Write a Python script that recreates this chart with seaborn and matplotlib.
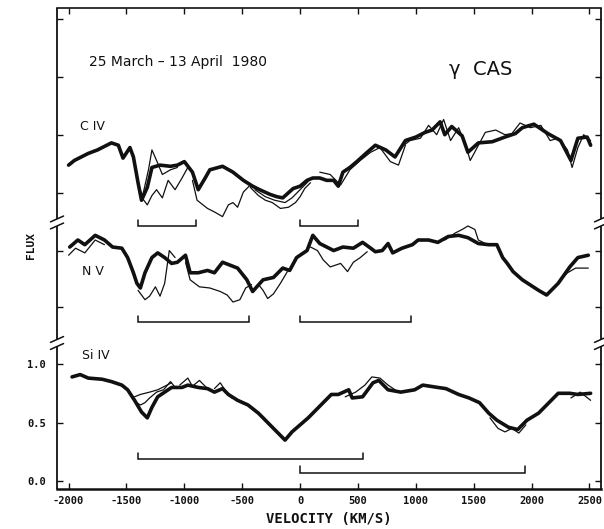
import numpy as np
import matplotlib
matplotlib.use("Agg")
import matplotlib.pyplot as plt
import matplotlib.transforms as mtransforms
import seaborn as sns

# ---------------- C IV (relative flux, stacked above the other ions) ----------------
civ_v = [-2000, -1950, -1830, -1750, -1630, -1570, -1530, -1470, -1440, -1400, -1370, -1320,
         -1280, -1210, -1120, -1060, -1000, -930, -880, -820, -780, -670, -580, -490, -410,
         -350, -260, -200, -150, -60, 0, 60, 110, 170, 230, 290, 330, 370, 430, 490, 580,
         650, 740, 820, 910, 1000, 1080, 1140, 1210, 1250, 1310, 1400, 1450, 1540, 1660,
         1770, 1860, 1920, 2020, 2140, 2250, 2340, 2400, 2480, 2510]
civ_f = [0.70, 0.74, 0.80, 0.83, 0.89, 0.87, 0.76, 0.85, 0.77, 0.55, 0.40, 0.51,
         0.68, 0.70, 0.69, 0.70, 0.73, 0.64, 0.49, 0.59, 0.66, 0.69, 0.64, 0.57, 0.52,
         0.49, 0.45, 0.43, 0.42, 0.50, 0.52, 0.57, 0.59, 0.59, 0.57, 0.57, 0.52, 0.64, 0.68, 0.73, 0.81,
         0.87, 0.83, 0.77, 0.91, 0.94, 0.98, 1.00, 1.07, 0.96, 1.03, 0.95, 0.81, 0.89, 0.90,
         0.94, 0.97, 1.02, 1.05, 0.97, 0.91, 0.74, 0.93, 0.94, 0.87]
# individual exposures where they leave the common band
civ_a_v = [-1400, -1360, -1310, -1280, -1240, -1190, -1120, -1060]
civ_a_f = [0.53, 0.44, 0.66, 0.83, 0.74, 0.62, 0.66, 0.68]
civ_b_v = [-1380, -1320, -1280, -1240, -1190, -1140, -1080, -1020, -970]
civ_b_f = [0.44, 0.36, 0.44, 0.49, 0.42, 0.57, 0.49, 0.59, 0.68]
civ_c_v = [-930, -890, -800, -740, -670, -620, -580, -540, -490, -430, -390]
civ_c_f = [0.57, 0.40, 0.33, 0.30, 0.26, 0.36, 0.38, 0.34, 0.47, 0.53, 0.51]
civ_e_v = [-430, -360, -300, -240, -170, -100, -40, 0, 40, 90]
civ_e_f = [0.51, 0.44, 0.40, 0.38, 0.33, 0.34, 0.38, 0.43, 0.50, 0.55]
civ_g_v = [-390, -300, -220, -130, -70, 0, 70]
civ_g_f = [0.49, 0.43, 0.40, 0.38, 0.42, 0.49, 0.56]
civ_h_v = [170, 260, 350, 430, 520, 610, 690, 780, 850, 910]
civ_h_f = [0.64, 0.62, 0.53, 0.66, 0.74, 0.81, 0.85, 0.73, 0.70, 0.87]
civ_k_v = [870, 950, 1040, 1110, 1180, 1240, 1300, 1370, 1430, 1470, 1530, 1600, 1690,
           1770, 1830, 1900, 1990, 2080, 2160, 2230, 2310, 2350, 2400, 2450, 2510]
civ_k_f = [0.85, 0.91, 0.93, 1.04, 0.96, 1.09, 0.91, 1.02, 0.87, 0.74, 0.85, 0.98, 1.00,
           0.96, 0.97, 1.06, 1.02, 1.04, 0.91, 0.93, 0.83, 0.68, 0.85, 0.96, 0.91]

# ---------------- N V ----------------
nv_v = [-1990, -1920, -1860, -1770, -1690, -1620, -1540, -1490, -1440, -1410, -1380, -1340,
        -1280, -1230, -1170, -1110, -1060, -990, -950, -880, -800, -740, -670, -540, -460,
        -410, -320, -230, -150, -90, -30, 60, 110, 170, 230, 290, 370, 460, 540, 610, 650,
        710, 760, 800, 880, 970, 1020, 1110, 1190, 1280, 1370, 1450, 1540, 1630, 1700,
        1750, 1790, 1840, 1920, 2060, 2130, 2230, 2330, 2400, 2490]
nv_f = [1.00, 1.06, 1.02, 1.10, 1.06, 1.00, 0.99, 0.91, 0.78, 0.69, 0.65, 0.78,
        0.91, 0.95, 0.91, 0.86, 0.87, 0.93, 0.78, 0.78, 0.80, 0.78, 0.87, 0.82, 0.72,
        0.62, 0.72, 0.74, 0.82, 0.80, 0.91, 0.97, 1.10, 1.03, 1.00, 0.97, 1.00, 0.99, 1.04, 0.99, 0.96,
        0.97, 1.03, 0.95, 0.99, 1.02, 1.06, 1.06, 1.04, 1.09, 1.10, 1.08, 1.03, 1.02, 1.02,
        0.91, 0.86, 0.79, 0.72, 0.63, 0.59, 0.69, 0.83, 0.91, 0.93]
nv_a_v = [-1400, -1340, -1300, -1250, -1210, -1170, -1130, -1080]
nv_a_f = [0.63, 0.55, 0.58, 0.66, 0.58, 0.69, 0.97, 0.91]
nv_b_v = [-990, -950, -870, -780, -690, -630, -580, -520, -470, -420]
nv_b_f = [0.87, 0.72, 0.66, 0.65, 0.62, 0.59, 0.53, 0.55, 0.65, 0.68]
nv_c_v = [-360, -320, -280, -230, -170, -110]
nv_c_f = [0.68, 0.63, 0.56, 0.60, 0.69, 0.79]
nv_d_v = [90, 150, 200, 260, 350, 410, 460, 520, 580]
nv_d_f = [1.00, 0.97, 0.89, 0.83, 0.86, 0.79, 0.87, 0.91, 0.96]
nv_e_v = [1250, 1340, 1400, 1450, 1510, 1540, 1600]
nv_e_f = [1.06, 1.12, 1.15, 1.18, 1.15, 1.06, 1.03]
nv_g_v = [2250, 2310, 2380, 2490]
nv_g_f = [0.72, 0.78, 0.82, 0.82]
nv_h_v = [-2000, -1940, -1860, -1770, -1690]
nv_h_f = [0.93, 0.99, 0.95, 1.06, 1.02]

# ---------------- Si IV (normalised flux, labelled scale) ----------------
si_v = [-1970, -1900, -1830, -1710, -1630, -1540, -1490, -1430, -1370, -1320, -1280, -1230,
        -1170, -1110, -1020, -970, -880, -800, -740, -670, -620, -540, -450, -360, -280,
        -190, -130, -70, 70, 160, 270, 330, 420, 450, 540, 630, 680, 760, 870, 990, 1060,
        1190, 1260, 1370, 1460, 1550, 1630, 1700, 1800, 1880, 1960, 2060, 2160, 2230, 2330,
        2400, 2510]
si_f = [0.89, 0.91, 0.88, 0.87, 0.85, 0.82, 0.78, 0.69, 0.59, 0.54, 0.63, 0.72,
        0.76, 0.80, 0.80, 0.82, 0.80, 0.79, 0.76, 0.79, 0.74, 0.69, 0.65, 0.58, 0.50,
        0.41, 0.35, 0.42, 0.54, 0.63, 0.74, 0.74, 0.78, 0.71, 0.72, 0.84, 0.86, 0.78, 0.76, 0.78, 0.82,
        0.80, 0.79, 0.74, 0.71, 0.67, 0.58, 0.52, 0.46, 0.44, 0.52, 0.58, 0.68, 0.75, 0.75,
        0.74, 0.75]
si_a_v = [-1430, -1380, -1340, -1300, -1230, -1170, -1110]
si_a_f = [0.72, 0.74, 0.75, 0.76, 0.78, 0.81, 0.84]
si_b_v = [-1430, -1380, -1340, -1300, -1240, -1180, -1120, -1070]
si_b_f = [0.68, 0.65, 0.67, 0.71, 0.76, 0.78, 0.85, 0.79]
si_c_v = [-1040, -970, -930, -870, -800]
si_c_f = [0.82, 0.88, 0.81, 0.86, 0.79]
si_d_v = [-740, -690, -650, -590]
si_d_f = [0.79, 0.84, 0.78, 0.71]
si_e_v = [390, 480, 560, 620, 690, 760, 820]
si_e_f = [0.72, 0.76, 0.82, 0.89, 0.88, 0.82, 0.78]
si_g_v = [1640, 1710, 1770, 1830, 1890, 1950]
si_g_f = [0.54, 0.45, 0.42, 0.45, 0.41, 0.48]
si_h_v = [2340, 2420, 2510]
si_h_f = [0.71, 0.76, 0.69]

# doublet separations marked under each ion (km/s)
civ_brackets = [(-1400, -900), (0, 500)]
nv_brackets = [(-1400, -440), (0, 960)]
si_brackets = [(-1400, 540), (0, 1940)]

x_ticks = [-2000, -1500, -1000, -500, 0, 500, 1000, 1500, 2000, 2500]
x_tick_labels = ["-2000", "-1500", "-1000", "-500", "0", "500", "1000", "1500", "2000", "2500"]
si_ticks = [0.0, 0.5, 1.0]
si_tick_labels = ["0.0", "0.5", "1.0"]

# vertical shifts used to stack the three ions
CIV_SHIFT = 2.0
NV_SHIFT = 1.0

sns.set_theme(style="ticks")
plt.rcParams["font.family"] = ["DejaVu Sans"]

fig = plt.figure(figsize=(6.04, 5.29), dpi=100)
ax = fig.add_axes([0.0944, 0.0756, 0.9007, 0.9093])
ax.set_xlim(-2100, 2600)
ax.set_ylim(-0.068, 4.043)

ink = "#111111"


def draw(v, f, shift, lw):
    sns.lineplot(x=v, y=np.asarray(f) + shift, ax=ax, color=ink, linewidth=lw,
                 sort=False, estimator=None, legend=False)


main_lw = 2.6
thin_lw = 0.9
draw(civ_v, civ_f, CIV_SHIFT, main_lw)
for v, f in [(civ_a_v, civ_a_f), (civ_b_v, civ_b_f), (civ_c_v, civ_c_f), (civ_e_v, civ_e_f),
             (civ_g_v, civ_g_f), (civ_h_v, civ_h_f), (civ_k_v, civ_k_f)]:
    draw(v, f, CIV_SHIFT, thin_lw)

draw(nv_v, nv_f, NV_SHIFT, main_lw)
for v, f in [(nv_a_v, nv_a_f), (nv_b_v, nv_b_f), (nv_c_v, nv_c_f), (nv_d_v, nv_d_f),
             (nv_e_v, nv_e_f), (nv_g_v, nv_g_f), (nv_h_v, nv_h_f)]:
    draw(v, f, NV_SHIFT, thin_lw)

draw(si_v, si_f, 0.0, main_lw)
for v, f in [(si_a_v, si_a_f), (si_b_v, si_b_f), (si_c_v, si_c_f), (si_d_v, si_d_f),
             (si_e_v, si_e_f), (si_g_v, si_g_f), (si_h_v, si_h_f)]:
    draw(v, f, 0.0, thin_lw)


def bracket(v0, v1, y, h):
    ax.plot([v0, v0, v1, v1], [y + h, y, y, y + h], color=ink, lw=1.1,
            solid_joinstyle="miter")


for v0, v1 in civ_brackets:
    bracket(v0, v1, 2.18, 0.05)
for v0, v1 in nv_brackets:
    bracket(v0, v1, 1.36, 0.05)
bracket(si_brackets[0][0], si_brackets[0][1], 0.19, 0.05)
bracket(si_brackets[1][0], si_brackets[1][1], 0.07, 0.06)

# ticks
mono = {"family": "DejaVu Sans Mono", "weight": "bold", "size": 7.5}
ax.set_xticks(x_ticks)
ax.set_xticklabels(x_tick_labels, fontdict=mono)
upper_ticks = [1.49, 1.97, 2.46, 2.96, 3.45, 3.95]
ax.set_yticks(si_ticks + upper_ticks)
ax.set_yticklabels(si_tick_labels + [""] * len(upper_ticks), fontdict=mono)
ax.tick_params(axis="both", direction="in", length=4, width=1.0, colors=ink,
               top=True, right=True, pad=5)
ax.tick_params(axis="y", pad=8)

# frame with broken side spines
for side in ("left", "right"):
    ax.spines[side].set_visible(False)
for side in ("top", "bottom"):
    ax.spines[side].set_color(ink)
ax.spines["bottom"].set_linewidth(1.8)
ax.spines["top"].set_linewidth(1.2)

trans = mtransforms.blended_transform_factory(ax.transAxes, ax.transData)
breaks = [2.21, 1.18]
gap = 0.03
segments = [(-0.068, breaks[1] - gap), (breaks[1] + gap, breaks[0] - gap), (breaks[0] + gap, 4.043)]
for xa in (0.0, 1.0):
    for y0, y1 in segments:
        ax.plot([xa, xa], [y0, y1], transform=trans, color=ink, lw=1.3, clip_on=False,
                solid_capstyle="butt")
    for yb in breaks:
        for dy in (-gap, gap):
            ax.plot([xa - 0.012, xa + 0.012], [yb + dy - 0.025, yb + dy + 0.025],
                    transform=trans, color=ink, lw=1.1, clip_on=False)

# labels
ax.set_xlabel("VELOCITY (KM/S)", fontdict={"family": "DejaVu Sans Mono", "weight": "bold",
                                           "size": 10}, labelpad=4, color=ink)
fig.text(0.052, 0.535, "FLUX", rotation=90, ha="center", va="center",
         family="DejaVu Sans Mono", weight="bold", size=8, color=ink)

ax.text(-1820, 3.58, "25 March \u2013 13 April  1980", fontsize=10, color=ink,
        ha="left", va="center")
ax.text(1290, 3.52, "\u03b3  CAS", fontsize=14, color=ink, ha="left", va="center")
ax.text(-1900, 3.03, "C IV", fontsize=9, color=ink, ha="left", va="center")
ax.text(-1880, 1.79, "N V", fontsize=9, color=ink, ha="left", va="center")
ax.text(-1880, 1.07, "Si IV", fontsize=9, color=ink, ha="left", va="center")

fig.savefig("out.png", dpi=100, facecolor="white")
